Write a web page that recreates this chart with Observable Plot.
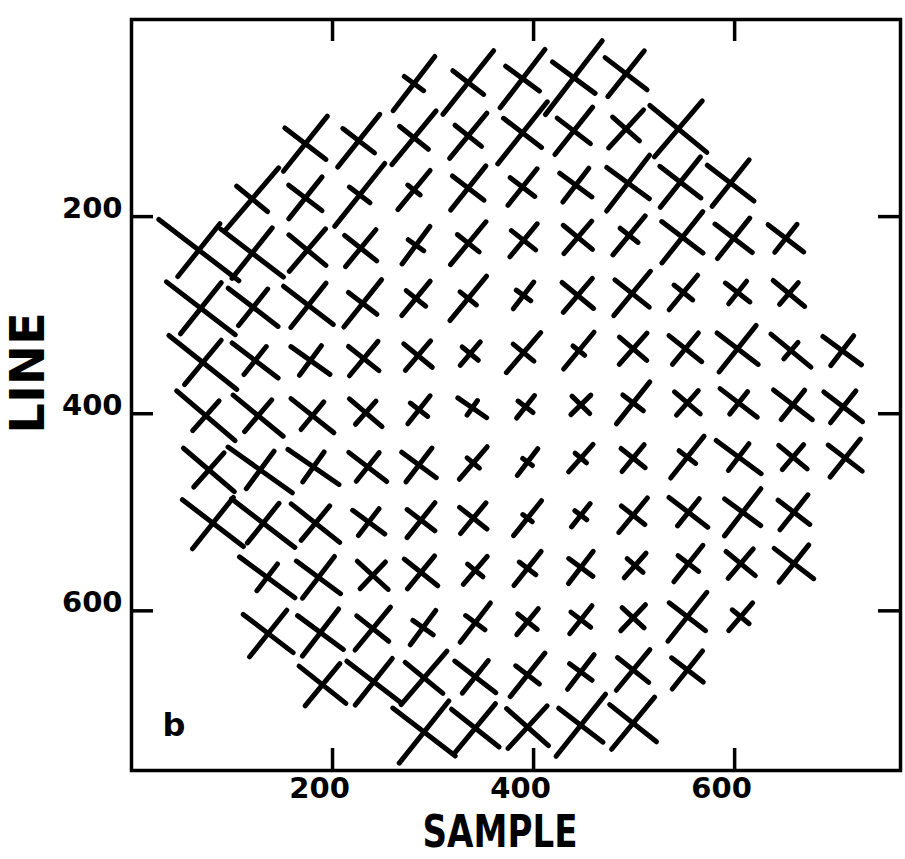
<!DOCTYPE html>
<html>
<head>
<meta charset="utf-8">
<script src="https://cdn.jsdelivr.net/npm/d3@7"></script>
<script src="https://cdn.jsdelivr.net/npm/@observablehq/plot@0.6"></script>
<style>
  body { margin: 0; background: #fff; }
</style>
</head>
<body>
<div id="chart"></div>
<script>
// Cross centres, one inner list per grid row: sample and line of the crossing point
const sample = [
  [281, 335, 389, 440, 492],
  [173, 226, 281, 335, 389, 440, 492, 544],
  [120, 173, 227, 281, 335, 389, 442, 494, 546, 596],
  [67, 120, 175, 228, 283, 335, 390, 444, 495, 548, 599, 651],
  [69, 121, 176, 230, 283, 335, 390, 444, 498, 549, 603, 654],
  [71, 123, 178, 231, 285, 337, 390, 445, 499, 551, 603, 656, 707],
  [74, 126, 180, 233, 286, 339, 392, 447, 499, 553, 604, 658, 708],
  [77, 128, 181, 235, 286, 340, 394, 447, 499, 553, 604, 658, 710],
  [81, 131, 183, 236, 288, 340, 394, 447, 499, 554, 608, 659],
  [135, 186, 240, 288, 342, 394, 447, 501, 554, 606, 659],
  [136, 188, 240, 290, 342, 394, 447, 499, 553, 606],
  [190, 241, 291, 342, 394, 447, 499, 553],
  [291, 342, 394, 447, 499]
];
const line = [
  [65, 64, 60, 59, 55],
  [126, 123, 120, 118, 115, 113, 111, 111],
  [182, 181, 178, 173, 171, 170, 168, 166, 165, 166],
  [234, 237, 234, 232, 229, 227, 224, 221, 219, 221, 222, 222],
  [293, 292, 290, 288, 283, 283, 280, 280, 278, 277, 277, 278],
  [348, 346, 346, 344, 341, 339, 338, 336, 334, 334, 334, 336, 336],
  [402, 402, 402, 399, 396, 394, 393, 391, 389, 389, 389, 391, 393],
  [457, 457, 454, 454, 452, 450, 449, 445, 445, 444, 444, 444, 445],
  [511, 511, 511, 510, 508, 506, 506, 503, 503, 500, 500, 500],
  [566, 566, 564, 561, 559, 557, 556, 554, 552, 552, 552],
  [623, 622, 618, 617, 612, 611, 609, 607, 606, 606],
  [675, 672, 668, 667, 665, 662, 660, 660],
  [723, 719, 718, 716, 714]
];
// Full length of the rising ("/") arm and of the falling ("\") arm
const slashArm = [
  [69, 82, 74, 94, 59],
  [71, 68, 70, 59, 80, 61, 52, 74],
  [82, 54, 81, 51, 57, 47, 43, 71, 65, 60],
  [68, 65, 56, 48, 47, 56, 43, 43, 51, 66, 52, 36],
  [66, 47, 57, 61, 45, 58, 34, 45, 58, 45, 29, 29],
  [58, 36, 37, 45, 39, 31, 53, 48, 42, 41, 60, 22, 38],
  [40, 42, 36, 31, 36, 18, 29, 28, 54, 33, 29, 38, 41],
  [46, 47, 37, 37, 43, 43, 34, 37, 35, 54, 34, 33, 49],
  [66, 51, 45, 34, 45, 40, 45, 30, 45, 35, 60, 45],
  [34, 53, 37, 43, 37, 44, 41, 33, 47, 39, 48],
  [60, 60, 56, 43, 50, 34, 36, 36, 63, 37],
  [55, 60, 71, 42, 56, 44, 53, 49],
  [80, 64, 58, 80, 68]
];
const backArm = [
  [24, 39, 42, 53, 53],
  [52, 40, 37, 34, 48, 42, 36, 74],
  [40, 42, 26, 16, 40, 31, 40, 53, 52, 59],
  [101, 79, 48, 41, 19, 28, 31, 38, 23, 52, 47, 45],
  [87, 63, 63, 36, 25, 21, 18, 41, 44, 24, 31, 41],
  [87, 58, 48, 39, 37, 21, 27, 15, 36, 42, 52, 52, 48],
  [77, 65, 55, 43, 22, 35, 19, 25, 26, 34, 47, 49, 49],
  [67, 79, 62, 48, 43, 16, 12, 15, 31, 21, 56, 37, 43],
  [77, 80, 62, 40, 35, 35, 12, 15, 30, 49, 45, 40],
  [69, 55, 42, 43, 20, 21, 30, 21, 26, 38, 50],
  [63, 57, 41, 25, 24, 25, 25, 30, 46, 22],
  [60, 68, 49, 52, 30, 28, 40, 40],
  [79, 61, 56, 56, 60]
];
// Tilt of the "/" arm above the sample axis, degrees; the "\" arm is at right angles to it
const angle = [
  [53, 52, 53, 53, 52],
  [52, 52, 51, 51, 52, 52, 48, 50],
  [50, 52, 52, 51, 52, 52, 53, 53, 52, 52],
  [52, 52, 50, 51, 54, 51, 51, 50, 51, 52, 52, 52],
  [52, 52, 52, 52, 51, 51, 53, 50, 51, 51, 52, 50],
  [51, 52, 54, 51, 50, 50, 50, 51, 49, 51, 52, 50, 53],
  [49, 50, 51, 49, 52, 55, 52, 45, 52, 49, 52, 52, 52],
  [49, 54, 55, 52, 53, 50, 53, 49, 51, 52, 53, 50, 52],
  [52, 52, 51, 53, 52, 51, 52, 52, 51, 52, 53, 52],
  [53, 53, 47, 51, 50, 52, 53, 49, 52, 50, 52],
  [52, 53, 51, 54, 53, 51, 52, 47, 52, 50],
  [51, 52, 50, 52, 52, 53, 51, 52],
  [52, 51, 48, 52, 51]
];
const xTicks = [200, 400, 600];
const yTicks = [200, 400, 600];
const xTitle = "SAMPLE";
const yTitle = "LINE";
const panelTag = "b";

// Each cross becomes two straight segments through its centre
const arms = [];
sample.forEach((row, r) => row.forEach((s, c) => {
  const l = line[r][c];
  const t = angle[r][c] * Math.PI / 180;
  const a = slashArm[r][c] / 2, b = backArm[r][c] / 2;
  const cs = Math.cos(t), sn = Math.sin(t);
  arms.push({x1: s - a * cs, y1: l + a * sn, x2: s + a * cs, y2: l - a * sn});
  arms.push({x1: s - b * sn, y1: l - b * cs, x2: s + b * sn, y2: l + b * cs});
}));

const W = 905, H = 859;
const mL = 131, mR = 5, mT = 19, mB = 89;
const frameW = W - mL - mR, frameH = H - mT - mB;
const tickLen = 22;
const numFont = "'DejaVu Sans', sans-serif";
const titleFont = "'DejaVu Sans', sans-serif";

const chart = Plot.plot({
  width: W,
  height: H,
  marginLeft: mL,
  marginRight: mR,
  marginTop: mT,
  marginBottom: mB,
  style: {background: "#fff", overflow: "visible"},
  x: {domain: [0, 765], axis: null},
  y: {domain: [0, 762], reverse: true, axis: null},
  marks: [
    Plot.link(arms, {x1: "x1", y1: "y1", x2: "x2", y2: "y2", stroke: "black", strokeWidth: 5, strokeLinecap: "round"}),
    Plot.frame({stroke: "black", strokeWidth: 3.5}),
    Plot.tickX(xTicks, {x: d => d, insetTop: frameH - tickLen, stroke: "black", strokeWidth: 3.5}),
    Plot.tickX(xTicks, {x: d => d, insetBottom: frameH - tickLen, stroke: "black", strokeWidth: 3.5}),
    Plot.tickY(yTicks, {y: d => d, insetRight: frameW - tickLen, stroke: "black", strokeWidth: 3.5}),
    Plot.tickY(yTicks, {y: d => d, insetLeft: frameW - tickLen, stroke: "black", strokeWidth: 3.5}),
    Plot.text(xTicks, {x: d => d, text: d => String(d), frameAnchor: "bottom", textAnchor: "middle", lineAnchor: "top", dx: -13, dy: 7,
      fontSize: 29, fontWeight: "bold", fontFamily: numFont, fill: "black"}),
    Plot.text(yTicks, {y: d => d, text: d => String(d), frameAnchor: "left", textAnchor: "end", lineAnchor: "middle", dx: -9, dy: -8,
      fontSize: 29, fontWeight: "bold", fontFamily: numFont, fill: "black"}),
    Plot.text([xTitle], {text: d => d, frameAnchor: "bottom", textAnchor: "middle", lineAnchor: "middle", dx: -16, dy: 62,
      fontSize: 44, fontWeight: "bold", fontFamily: titleFont, fill: "black"}),
    Plot.text([yTitle], {text: d => d, frameAnchor: "left", textAnchor: "middle", lineAnchor: "middle", rotate: -90, dx: -103, dy: -22,
      fontSize: 48, fontWeight: "bold", fontFamily: titleFont, fill: "black"}),
    Plot.text([panelTag], {text: d => d, frameAnchor: "bottom-left", textAnchor: "start", lineAnchor: "bottom", dx: 31, dy: -35,
      fontSize: 32, fontWeight: "bold", fontFamily: numFont, fill: "black"})
  ]
});

// The plotter lettering of the axis title is narrow: squeeze it to its drawn width
d3.select(chart).selectAll("text")
  .filter(function() { return this.textContent === xTitle; })
  .attr("textLength", 155)
  .attr("lengthAdjust", "spacingAndGlyphs");

document.getElementById("chart").appendChild(chart);
</script>
</body>
</html>
